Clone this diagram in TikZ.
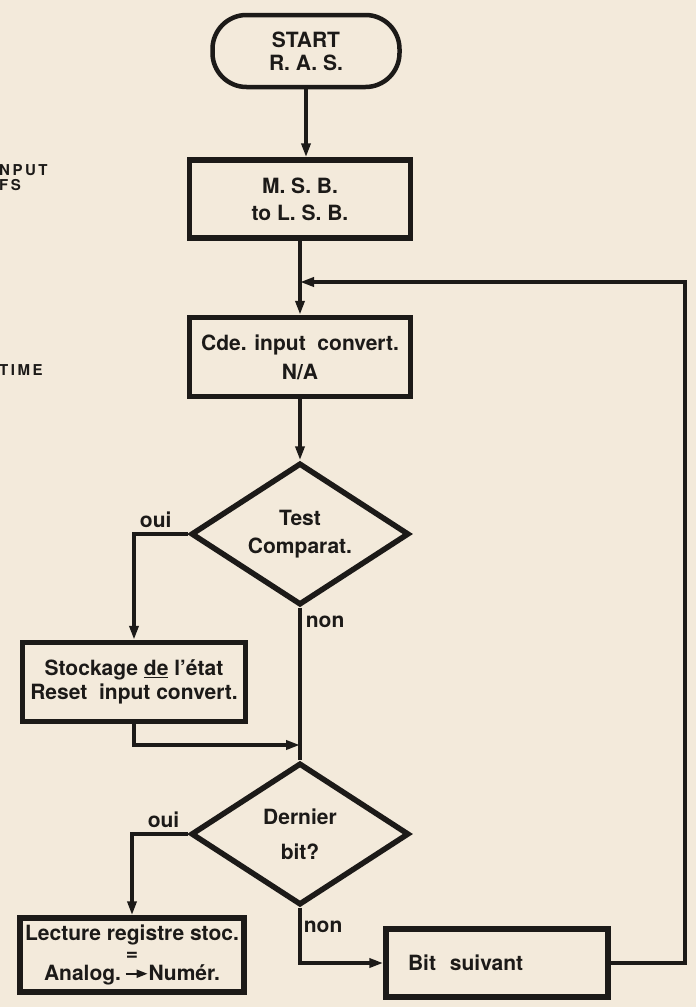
\documentclass[tikz,border=0pt]{standalone}
\usepackage{fontspec}
\setmainfont{TeX Gyre Heros}
\usetikzlibrary{shapes.geometric,arrows.meta}
\definecolor{paper}{HTML}{F3EADB}
\definecolor{ink}{HTML}{1C1A18}

\begin{document}
\begin{tikzpicture}[x=1pt,y=-1pt]

\tikzset{mybox/.style={draw=ink, line width=5.5pt, inner sep=0pt, align=center, text=ink, font=\bfseries\fontsize{21}{25}\selectfont}}
\tikzset{mytest/.style={mybox, shape=diamond, aspect=1.5, minimum width=218pt, minimum height=142pt}}
\tikzset{myline/.style={draw=ink, line width=3.8pt}}
\tikzset{myarrow/.style={myline, -{Triangle[length=14pt,width=9pt]}}}
\tikzset{mylabel/.style={text=ink, inner sep=1pt, font=\bfseries\fontsize{21}{25}\selectfont}}
\tikzset{myedge/.style={text=ink, anchor=west, inner sep=0pt, font=\bfseries\fontsize{15}{17}\selectfont}}

\fill[paper] (0,0) rectangle (696,1007);
\useasboundingbox (0,0) rectangle (696,1007);

% bits of the facing page
\node[myedge] (inputa) at (-1,170) {N\,P\,U\,T};
\node[myedge] (inputb) at (-1,185) {F\,S};
\node[myedge] (time) at (-1,370) {T\,I\,M\,E};

\node[mybox, rounded corners=34pt, line width=4.5pt, minimum width=187pt, minimum height=72pt] (start) at (306,51) {START\\[-2pt]R. A. S.};
\node[mybox, minimum width=221pt, minimum height=78pt] (msb) at (300,199) {M. S. B.\\[2pt]to L. S. B.};
\node[mybox, minimum width=221pt, minimum height=79pt] (cde) at (300,357) {Cde. input\ \ convert.\\[4pt]N/A};
\node[mytest] (test) at (300,534) {Test\\[3pt]Comparat.};
\node[mybox, minimum width=223pt, minimum height=79pt] (stock) at (134,682) {Stockage \underline{de} l'état\\[-1pt]Reset\ \ input convert.};
\node[mytest] (last) at (300,834) {Dernier\\[10pt]bit?};
\node[mybox, minimum width=224pt, minimum height=74pt] (read) at (132,955) {Lecture registre stoc.\\[-5pt]=\\[-5pt]Analog.\,\tikz[baseline=-0.6ex]\draw[line width=2pt,-{Triangle[length=11pt,width=8pt]}] (0pt,0pt) -- (22pt,0pt);Numér.};
\node[mybox, minimum width=222pt, minimum height=68pt, text width=178pt, align=left] (next) at (497,963) {Bit\ \ suivant};

\coordinate (join) at (300,282);
\coordinate (merge) at (300,745);

\draw[myarrow] (start.south) -- (start.south |- msb.north);
\draw[myline] (msb) -- (join);
\draw[myarrow] (join) -- (cde);
\draw[myarrow] (cde) -- (test);
\draw[myarrow] (test.west) -| (stock.north) node[mylabel, pos=0.3, above=3pt] (oui1) {oui};
\draw[myline] (test.south) -- (merge) node[mylabel, pos=0.1, right=3pt] (non1) {non};
\draw[myarrow] (stock.south) |- (merge);
\draw[myline] (merge) -- (last);
\draw[myarrow] (last.west) -| (read.north) node[mylabel, pos=0.22, above=3pt] (oui2) {oui};
\draw[myarrow] (last.south) |- (next.west) node[mylabel, pos=0.17, right=1pt] (non2) {non};
\draw[myarrow] (next.east) -- ++(74,0) |- (join);

\end{tikzpicture}
\end{document}
